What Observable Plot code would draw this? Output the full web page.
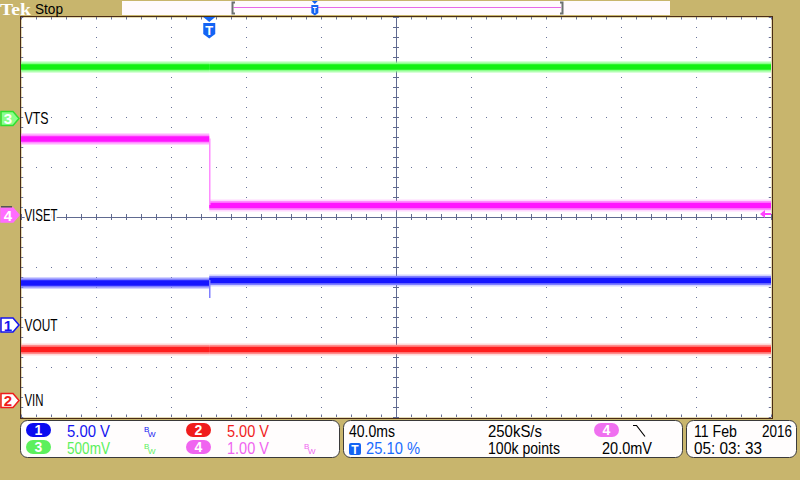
<!DOCTYPE html>
<html><head><meta charset="utf-8">
<script src="https://cdn.jsdelivr.net/npm/d3@7"></script>
<script src="https://cdn.jsdelivr.net/npm/@observablehq/plot@0.6"></script>
<style>
html,body{margin:0;padding:0;background:#c8b56d;}
#wrap{position:relative;width:800px;height:480px;overflow:hidden;background:#c8b56d;}
#wrap svg{position:absolute;left:0;top:0;}
</style></head><body><div id="wrap"></div>
<script>
const channels = ["1", "2", "3", "4"];
const chLabels = ["VOUT", "VIN", "VTS", "VISET"];
const voltsPerDiv = [5, 5, 0.5, 1];
const scaleText = ["5.00 V", "5.00 V", "500mV", "1.00 V"];
const offsetDiv = [-2.16, -3.67, 1.97, 0.04];       // ground marker position, divisions
const levelBefore = [4.25, 5.15, 0.52, 1.53];       // V, before trigger
const levelAfter = [4.5, 5.15, 0.52, 0.20];         // V, after trigger
const edgeChannel = [0, 3];                          // transitions at the trigger
const edgeFrom = [4.5, 1.53];
const edgeTo = [2.7, 0.20];
const timePerDiv = 40;        // ms/div
const triggerPct = 25.10;     // %
const triggerLevel = 0.020;   // V on ch4
const sampleRate = "250kS/s";
const recordLength = "100k points";
const dateText = ["11 Feb", "2016", "05: 03: 33"];

// ---------------- styles ----------------
const FONT = "'Liberation Sans',sans-serif";
const traceCore = ["#1616ff", "#ff1e1e", "#12f012", "#ff14ff"];
const traceLight = ["#8080ff", "#ff8c8c", "#8cff8c", "#ff8cff"];
const textColor = ["#1414f0", "#f01c1c", "#5cf05c", "#f064f0"];
const labelWidth = [33, 19, 24, 33];
const scaleWidth = [43, 42, 43, 42];
const GRID = "#68729a", AXIS = "#606a90";

const tStart = -triggerPct / 100 * 10 * timePerDiv;
const tEnd = tStart + 10 * timePerDiv;
const tCenter = tStart + 5 * timePerDiv;
const gridT = d3.range(1, 10).filter(k => k !== 5).map(k => tStart + k * timePerDiv);
const gridD = [-3, -2, -1, 1, 2, 3];
const minorT = d3.range(0, 51).map(k => tStart + k * timePerDiv / 5);
const minorD = d3.range(-20, 21).map(k => k / 5);
const yDiv = (i, v) => offsetDiv[i] + v / voltsPerDiv[i];

const segs = channels.flatMap((c, i) => [
  {i, t1: tStart, t2: 0, v: levelBefore[i]},
  {i, t1: 0, t2: tEnd, v: levelAfter[i]}
]);
const edges = edgeChannel.map((i, k) => ({i, a: edgeFrom[k], b: edgeTo[k]}));

const chart = Plot.plot({
  width: 800, height: 480,
  marginLeft: 21, marginRight: 29, marginTop: 17, marginBottom: 63,
  x: {domain: [tStart, tEnd], axis: null},
  y: {domain: [-4, 4], axis: null},
  color: {type: "identity"},
  style: {background: "transparent"},
  marks: [
    Plot.frame({fill: "white", stroke: null}),
    Plot.ruleX(gridT, {y1: 4, y2: -4, stroke: GRID, strokeDasharray: "1,9"}),
    Plot.ruleY(gridD, {x1: tStart, x2: tEnd, stroke: GRID, strokeDasharray: "1,14"}),
    Plot.ruleX(minorT, {y1: 4, y2: 3.95, stroke: GRID}),
    Plot.ruleX(minorT, {y1: -4, y2: -3.95, stroke: GRID}),
    Plot.ruleY(minorD, {x1: tStart, x2: tStart + 1.2, stroke: GRID}),
    Plot.ruleY(minorD, {x1: tEnd - 1.2, x2: tEnd, stroke: GRID}),
    Plot.ruleX([tCenter], {stroke: AXIS}),
    Plot.ruleY([0], {stroke: AXIS}),
    Plot.ruleX(minorT, {y1: -0.06, y2: 0.06, stroke: AXIS}),
    Plot.ruleY(minorD, {x1: tCenter - 1.6, x2: tCenter + 1.6, stroke: AXIS}),
    // traces: noise envelope + core
    Plot.ruleY(segs, {x1: "t1", x2: "t2", y: d => yDiv(d.i, d.v), stroke: d => traceLight[d.i], strokeWidth: 12, strokeOpacity: 0.35}),
    Plot.ruleY(segs, {x1: "t1", x2: "t2", y: d => yDiv(d.i, d.v), stroke: d => traceLight[d.i], strokeWidth: 9}),
    Plot.ruleY(segs, {x1: "t1", x2: "t2", y: d => yDiv(d.i, d.v), stroke: d => traceCore[d.i], strokeWidth: 5.5}),
    Plot.ruleX(edges, {x: 0, y1: d => yDiv(d.i, d.a), y2: d => yDiv(d.i, d.b), stroke: d => traceLight[d.i], strokeWidth: 1.5}),
    // channel labels
    Plot.text([0, 1, 2, 3], {x: tStart, y: i => offsetDiv[i], text: i => chLabels[i], dx: 3,
      textAnchor: "start", lineAnchor: "middle", fontSize: 17, fontFamily: FONT,
      fill: "black", stroke: "white", strokeWidth: 6}),
    Plot.frame({stroke: "#4a2c14", inset: -1})
  ]
});
document.getElementById("wrap").appendChild(chart);

// narrow the label glyphs to the scope's condensed font
d3.select(chart).selectAll("g[aria-label='text'] text").each(function(i) {
  d3.select(this).attr("textLength", labelWidth[i]).attr("lengthAdjust", "spacingAndGlyphs");
});

// ---------------- scope chrome ----------------
const xS = chart.scale("x"), yS = chart.scale("y");
const svg = d3.select(chart);
const g = svg.append("g").attr("text-anchor", "start");
function txt(x, y, s, color, size, extra = {}) {
  const t = g.append("text").attr("x", x).attr("y", y).text(s)
    .attr("fill", color).attr("font-size", size).attr("font-family", extra.family || FONT)
    .attr("text-anchor", extra.anchor || "start").style("text-anchor", extra.anchor || "start");
  if (extra.weight) t.attr("font-weight", extra.weight);
  if (extra.w) t.attr("textLength", extra.w).attr("lengthAdjust", "spacingAndGlyphs");
  return t;
}
// status bar
txt(0, 15, "Tek", "white", 17, {family: "'Liberation Serif',serif", weight: "bold", w: 31});
txt(35, 13.5, "Stop", "black", 15, {w: 28});
g.append("rect").attr("x", 122).attr("y", 1).attr("width", 548).attr("height", 14).attr("fill", "#fffafd");
g.append("path").attr("d", "M233.5,7.5H561").attr("stroke", "#e868e8").attr("fill", "none");
g.append("path").attr("d", "M235,2.5H232.5V13.5H235").attr("stroke", "#6c7170").attr("stroke-width", 2).attr("fill", "none");
g.append("path").attr("d", "M560,2.5H562.5V13.5H560").attr("stroke", "#6c7170").attr("stroke-width", 2).attr("fill", "none");
const tx2 = 232 + (562 - 232) * triggerPct / 100;
g.append("path").attr("d", `M${tx2 - 3},1H${tx2 + 3}L${tx2},4Z`).attr("fill", "#1464f4");
g.append("path").attr("d", `M${tx2 - 3.5},5H${tx2 + 3.5}V13L${tx2},15.5L${tx2 - 3.5},13Z`).attr("fill", "#1464f4");
g.append("path").attr("d", `M${tx2 - 2},7.5H${tx2 + 2}M${tx2},7.5V13`).attr("stroke", "white").attr("fill", "none");

// trigger position marker
const tx = xS.apply(0);
g.append("path").attr("d", `M${tx - 6},17H${tx + 6}L${tx},22Z`).attr("fill", "#1464f4");
g.append("path").attr("d", `M${tx - 6},23H${tx + 6}V34L${tx},38.5L${tx - 6},34Z`).attr("fill", "#1464f4");
txt(tx, 35, "T", "white", 13, {weight: "bold", anchor: "middle"});

// trigger level arrow (right)
const ty = yS.apply(offsetDiv[3] + triggerLevel / voltsPerDiv[3]);
g.append("path").attr("d", `M760,${ty}L765,${ty - 4}V${ty + 4}Z`).attr("fill", "#ff40ff");
g.append("path").attr("d", `M764,${ty}H771`).attr("stroke", "#ff40ff").attr("stroke-width", 2);

// channel ground markers (left)
const mFill = ["white", "white", "#8cff8c", "#ff6cff"];
const mStroke = ["#1414f0", "#f01c1c", "#2ee02e", "#ff6cff"];
const mText = ["#1414f0", "#f01c1c", "white", "white"];
channels.forEach((c, i) => {
  const y0 = yS.apply(offsetDiv[i]);
  g.append("path").attr("d", `M1,${y0 - 7}H13L19,${y0}L13,${y0 + 7}H1Z`)
    .attr("fill", mFill[i]).attr("stroke", mStroke[i]).attr("stroke-width", 1.5);
  txt(8, y0 + 5.5, c, mText[i], 15, {weight: "bold", anchor: "middle"});
});
g.append("rect").attr("x", 1).attr("y", yS.apply(offsetDiv[3]) - 9).attr("width", 11).attr("height", 1.5).attr("fill", "#555");

// bottom panels
[[20.5, 319], [343.5, 339], [686.5, 110]].forEach(([x, w]) =>
  g.append("rect").attr("x", x).attr("y", 420.5).attr("width", w).attr("height", 37).attr("rx", 7)
    .attr("fill", "#fffdfd").attr("stroke", "#3a3a3a"));
function pill(x, y, s, fill) {
  g.append("rect").attr("x", x).attr("y", y).attr("width", 25).attr("height", 14).attr("rx", 7).attr("fill", fill);
  txt(x + 12.5, y + 12, s, "white", 14, {weight: "bold", anchor: "middle"});
}
function bw(x, y, color) {
  txt(x, y - 5, "B", color, 8);
  txt(x + 4, y, "W", color, 8);
}
const pillFill = ["#0a0af0", "#f01c1c", "#5cf05c", "#f064f0"];
const px = [26, 186, 26, 186], py = [423, 423, 440, 440], rowY = [437, 437, 454, 454];
channels.forEach((c, i) => {
  pill(px[i], py[i], c, pillFill[i]);
  txt(px[i] + 41, rowY[i], scaleText[i], textColor[i], 16.5, {w: scaleWidth[i]});
});
bw(144, 437, textColor[0]);
bw(144, 454, textColor[2]);
bw(304, 454, textColor[3]);

txt(349, 437, `${timePerDiv.toFixed(1)}ms`, "black", 16.5, {w: 46});
txt(488, 437, sampleRate, "black", 16.5, {w: 54});
pill(594, 423, "4", "#f070f0");
g.append("path").attr("d", "M633,425.5H636.5L645,436.5").attr("stroke", "black").attr("fill", "none").attr("stroke-width", 1.2);
g.append("rect").attr("x", 349).attr("y", 443).attr("width", 12).attr("height", 12).attr("rx", 2).attr("fill", "#1464f4");
txt(355, 453.5, "T", "white", 12, {weight: "bold", anchor: "middle"});
txt(366, 454, `${triggerPct.toFixed(2)} %`, "#1a6cff", 16.5, {w: 54});
txt(488, 454, recordLength, "black", 16.5, {w: 72});
txt(602, 454, `${(triggerLevel * 1000).toFixed(1)}mV`, "black", 16.5, {w: 50});
txt(694, 437, dateText[0], "black", 16.5, {w: 43});
txt(762, 437, dateText[1], "black", 16.5, {w: 30});
txt(694, 454, dateText[2], "black", 16.5, {w: 68});
</script></body></html>
